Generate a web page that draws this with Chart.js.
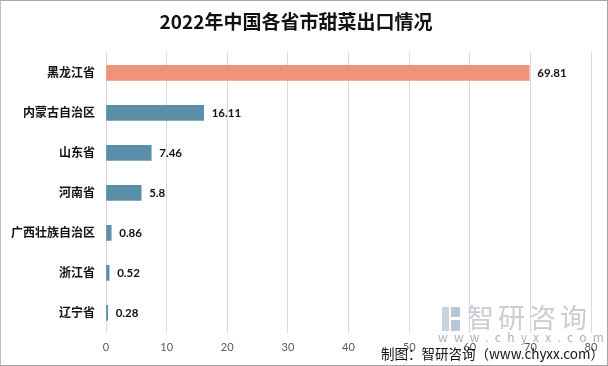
<!DOCTYPE html>
<html>
<head>
<meta charset="utf-8">
<script src="https://cdn.jsdelivr.net/npm/chart.js@4"></script>
<style>
  body { margin: 0; background: #fff; }
  #wrap { position: relative; width: 606px; height: 364px; border: 1px solid #a6a6a6; border-left-color: #bfbfbf; overflow: hidden; }
  canvas { position: absolute; left: 0; top: 0; }
  .wm { position: absolute; font-family: 'Noto Sans CJK SC', sans-serif; white-space: nowrap; }
</style>
</head>
<body>
<div id="wrap">
  <canvas id="export_chart" width="606" height="364"></canvas>
  <div class="wm" style="left:441px;top:306px;width:18px;height:24px;">
    <div style="position:absolute;left:0;top:0;width:7px;height:24px;background:#c9d3dd;"></div>
    <div style="position:absolute;left:9px;top:0;width:9px;height:10px;background:#b7c7d8;"></div>
    <div style="position:absolute;left:9px;top:13px;width:9px;height:11px;background:#b7c7d8;"></div>
  </div>
  <div class="wm" style="left:466px;top:296px;font-size:27px;color:#c8ced4;letter-spacing:4px;">智研咨询</div>
  <div class="wm" style="left:437px;top:329px;font-size:12px;line-height:14px;color:#a9b3bd;letter-spacing:6.3px;">www.chyxx.com</div>
  <div class="wm" style="left:380px;top:342px;font-size:13.5px;color:#111;">制图：智研咨询（www.chyxx.com）</div>
</div>
<script>
const provinces = ['黑龙江省', '内蒙古自治区', '山东省', '河南省', '广西壮族自治区', '浙江省', '辽宁省'];
const exports_value = [69.81, 16.11, 7.46, 5.8, 0.86, 0.52, 0.28];
const bar_colors = ['#f0937b', '#5b8fa8', '#5b8fa8', '#5b8fa8', '#5b8fa8', '#5b8fa8', '#5b8fa8'];
const x_ticks = [0, 10, 20, 30, 40, 50, 60, 70, 80];

// value labels to the right of each bar
const bar_labels = {
  id: 'bar_labels',
  afterDatasetsDraw(chart) {
    const ctx = chart.ctx;
    const meta = chart.getDatasetMeta(0);
    ctx.save();
    ctx.font = 'bold 11.5px Lato, "Noto Sans CJK SC"';
    ctx.fillStyle = '#111';
    ctx.textBaseline = 'middle';
    meta.data.forEach((bar, i) => {
      ctx.fillText(String(exports_value[i]), bar.x + 8, bar.y);
    });
    ctx.restore();
  }
};

const export_chart = document.getElementById('export_chart');

new Chart(export_chart, {
  type: 'bar',
  data: {
    labels: provinces,
    datasets: [{
      label: '出口',
      data: exports_value,
      backgroundColor: bar_colors,
      barThickness: 15,
    }]
  },
  plugins: [bar_labels],
  options: {
    indexAxis: 'y',
    responsive: false,
    animation: false,
    layout: { padding: { left: 0, right: 16, top: 0, bottom: 3 } },
    plugins: {
      legend: { display: false },
      tooltip: { enabled: false },
      title: {
        display: true,
        text: '2022年中国各省市甜菜出口情况',
        color: '#111',
        font: { family: '"Noto Sans CJK SC"', size: 19, weight: 'bold' },
        padding: { top: 9, bottom: 20 }
      }
    },
    scales: {
      x: {
        min: 0,
        max: 80,
        afterBuildTicks(scale) { scale.ticks = x_ticks.map(v => ({ value: v })); },
        grid: { color: '#d9d9d9', drawTicks: false },
        border: { display: false },
        ticks: { color: '#595959', padding: 8, font: { family: 'Lato, "Noto Sans CJK SC"', size: 11 } }
      },
      y: {
        afterFit(scale) { scale.width = 105; },
        grid: { display: false },
        border: { display: false },
        ticks: { color: '#111', padding: 3, font: { family: '"Noto Sans CJK SC"', size: 12, weight: 'bold' } }
      }
    }
  }
});
</script>
</body>
</html>
